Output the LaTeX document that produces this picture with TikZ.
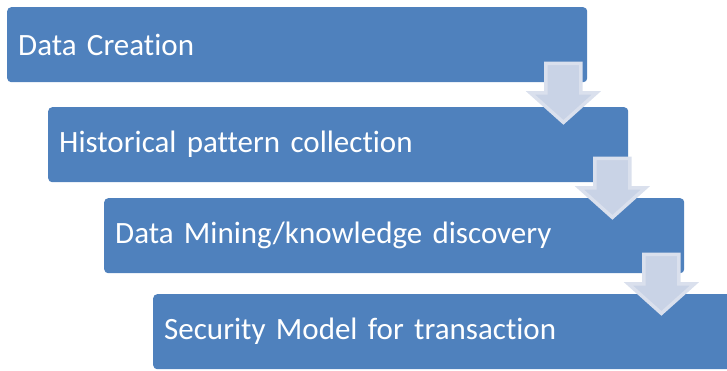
\documentclass[tikz,border=0pt]{standalone}
\usepackage{fontspec}
\setmainfont{Carlito}[Ligatures=NoCommon]
\usetikzlibrary{positioning}

\definecolor{stageblue}{HTML}{4F81BD}
\definecolor{arrowfill}{HTML}{C9D3E6}
\definecolor{arrowedge}{HTML}{DAE0ED}

\begin{document}
\begin{tikzpicture}[
        x=1pt, y=-1pt,
        stage/.style={fill=stageblue, rounded corners=4pt, text=white,
            anchor=north west, minimum height=75pt, text width=558pt,
            inner xsep=11pt, inner ysep=0pt, align=left,
            font=\fontsize{31}{36}\selectfont},
        flowarrow/.pic={
            \draw[fill=arrowfill, draw=arrowedge, line width=3.5pt, line join=miter]
                (0,0) -- (-33,-29.5) -- (-17.5,-29.5) -- (-17.5,-59)
                -- (17.5,-59) -- (17.5,-29.5) -- (33,-29.5) -- cycle;
        }
    ]
    \clip (0,0) rectangle (727,370);

    % Stage Nodes
    \node[stage] (creation) at (7,7) {Data Creation};
    \node[stage] (history) at (48,107) {Historical pattern collection};
    \node[stage] (mining) at (104,198) {Data Mining/knowledge discovery};
    \node[stage] (security) at (153,294) {Security Model for transaction};

    % Arrows
    \pic at ([shift={(-24,40)}]creation.south east) {flowarrow};
    \pic at ([shift={(-16,35)}]history.south east) {flowarrow};
    \pic at ([shift={(-23,40)}]mining.south east) {flowarrow};

\end{tikzpicture}
\end{document}
